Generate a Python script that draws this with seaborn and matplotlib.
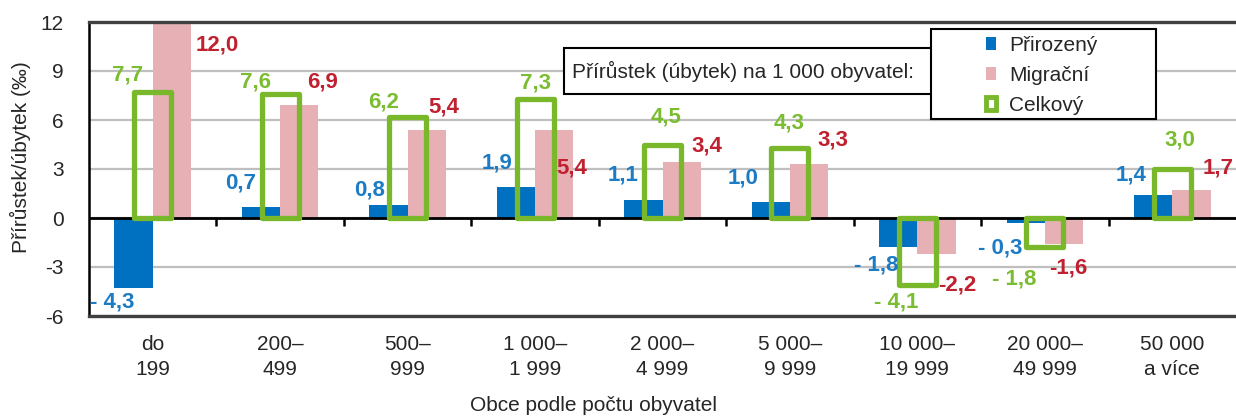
import numpy as np
import pandas as pd
import matplotlib
matplotlib.use("Agg")
import matplotlib.pyplot as plt
from matplotlib.patches import Patch, Rectangle
import seaborn as sns

# data (promile)
categories = ["do\n199", "200–\n499", "500–\n999", "1 000–\n1 999", "2 000–\n4 999",
              "5 000–\n9 999", "10 000–\n19 999", "20 000–\n49 999", "50 000\na více"]
prirozeny = [-4.3, 0.7, 0.8, 1.9, 1.1, 1.0, -1.8, -0.3, 1.4]
migracni = [12.0, 6.9, 5.4, 5.4, 3.4, 3.3, -2.2, -1.6, 1.7]
celkovy = [7.7, 7.6, 6.2, 7.3, 4.5, 4.3, -4.1, -1.8, 3.0]
series = ["Přirozený", "Migrační"]

# label placement (x offset from group centre, y in data units)
lab_blue = [(-0.32, -5.14), (-0.31, 2.14), (-0.30, 1.71), (-0.30, 3.37), (-0.31, 2.63),
            (-0.37, 2.45), (-0.32, -2.88), (-0.35, -1.84), (-0.32, 2.63)]
lab_red = [(0.51, 10.6), (0.33, 8.33), (0.28, 6.8), (0.29, 3.06), (0.35, 4.41),
           (0.34, 4.78), (0.31, -4.1), (0.18, -3.06), (0.36, 3.06)]
lab_green = [(-0.20, 8.76), (-0.19, 8.33), (-0.19, 7.1), (0.0, 8.27), (0.03, 6.18),
             (-0.01, 5.8), (-0.17, -5.14), (-0.24, -3.74), (0.06, 4.78)]

BLUE = "#0070C0"
PINK = "#E6B0B5"
GREEN = "#78B82A"
BLUE_T = "#1B7BC4"
RED_T = "#C0202F"
GREEN_T = "#7ABD30"
FS = 15

sns.set_style("white")
plt.rcParams["font.family"] = ["Liberation Sans", "DejaVu Sans"]
plt.rcParams["axes.unicode_minus"] = False

df = pd.DataFrame({
    "obec": categories * 2,
    "hodnota": prirozeny + migracni,
    "typ": [series[0]] * len(categories) + [series[1]] * len(categories),
})

W, H = 1236, 417
fig = plt.figure(figsize=(W / 100, H / 100), dpi=100)
ax = fig.add_axes([89 / W, 1 - 316 / H, 1 - 89 / W, (316 - 22) / H])

sns.barplot(data=df, x="obec", y="hodnota", hue="typ", order=categories,
            hue_order=series, palette=[BLUE, PINK], saturation=1, width=0.6,
            errorbar=None, legend=False, linewidth=0, ax=ax, zorder=2)
n_before = len(ax.patches)
sns.barplot(x=categories, y=celkovy, order=categories, fill=False, color=GREEN,
            saturation=1, width=0.29, linewidth=3.8, errorbar=None, ax=ax, zorder=3)
for p in ax.patches[n_before:]:
    p.set_joinstyle("round")
    p.set_edgecolor(GREEN)

ax.set_xlim(-0.5, 8.5)
ax.set_ylim(-6, 12)
ax.set_yticks(range(-6, 13, 3))
ax.yaxis.grid(True, color="#BFBFBF", lw=1.6)
ax.set_axisbelow(True)
ax.axhline(0, color="black", lw=2, zorder=2.5)
ax.tick_params(axis="y", direction="out", length=6, width=1.6, labelsize=FS, pad=12, color="black")
ax.tick_params(axis="x", length=0, labelsize=FS, pad=14)
for lbl in ax.get_xticklabels():
    lbl.set_linespacing(1.4)
ax.spines["right"].set_visible(False)
ax.spines["left"].set_color("black")
ax.spines["left"].set_linewidth(1.8)
for s in ["top", "bottom"]:
    ax.spines[s].set_color("#404040")
    ax.spines[s].set_linewidth(2.4)

ax.set_ylabel("Přírůstek/úbytek (‰)", fontsize=FS)
ax.yaxis.set_label_coords((31 - 89) / 1147, 0.54)
ax.set_xlabel("")
fig.text(593 / W, 1 - 411 / H, "Obce podle počtu obyvatel", fontsize=FS,
         ha="center", va="baseline")

# tick marks between groups on the zero line
sec = ax.secondary_xaxis(6 / 18)
sec.set_xticks(np.arange(0.5, 8, 1.0))
sec.tick_params(length=6, width=1.8, labelbottom=False, labeltop=False, color="black")
for s in ["top", "bottom"]:
    sec.spines[s].set_visible(False)


def fmt(v, neg="- "):
    s = f"{abs(v):.1f}".replace(".", ",")
    return (neg + s) if v < 0 else s


for i in range(len(categories)):
    dx, y = lab_blue[i]
    ax.text(i + dx, y, fmt(prirozeny[i]), color=BLUE_T, fontsize=16, fontweight="bold",
            ha="center", va="center", zorder=5)
    dx, y = lab_red[i]
    ax.text(i + dx, y, fmt(migracni[i], "-"), color=RED_T, fontsize=16, fontweight="bold",
            ha="center", va="center", zorder=5)
    dx, y = lab_green[i]
    ax.text(i + dx, y, fmt(celkovy[i]), color=GREEN_T, fontsize=16, fontweight="bold",
            ha="center", va="center", zorder=5)

# text box + legend box
fig.patches.append(Rectangle((564 / W, 1 - 94 / H), (932 - 564) / W, (94 - 48) / H,
                             transform=fig.transFigure, fc="white", ec="black", lw=1.5, zorder=10))
fig.text(572 / W, 1 - 71 / H, "Přírůstek (úbytek) na 1 000 obyvatel:", fontsize=FS,
         ha="left", va="center", zorder=11)
fig.patches.append(Rectangle((931 / W, 1 - 119 / H), (1156 - 931) / W, (119 - 29) / H,
                             transform=fig.transFigure, fc="white", ec="black", lw=1.5, zorder=12))
handles = [Patch(facecolor=BLUE, edgecolor="none"),
           Patch(facecolor=PINK, edgecolor="none"),
           Patch(facecolor="white", edgecolor=GREEN, lw=3.5, joinstyle="round")]
leg = fig.legend(handles, ["Přirozený", "Migrační", "Celkový"], loc="upper left",
                 bbox_to_anchor=(986 / W, 1 - 36 / H), frameon=False, fontsize=FS,
                 handlelength=0.5, handleheight=0.6, handletextpad=0.6, labelspacing=0.52,
                 borderpad=0, borderaxespad=0)
leg.set_zorder(13)

fig.savefig("out.png", dpi=100)
